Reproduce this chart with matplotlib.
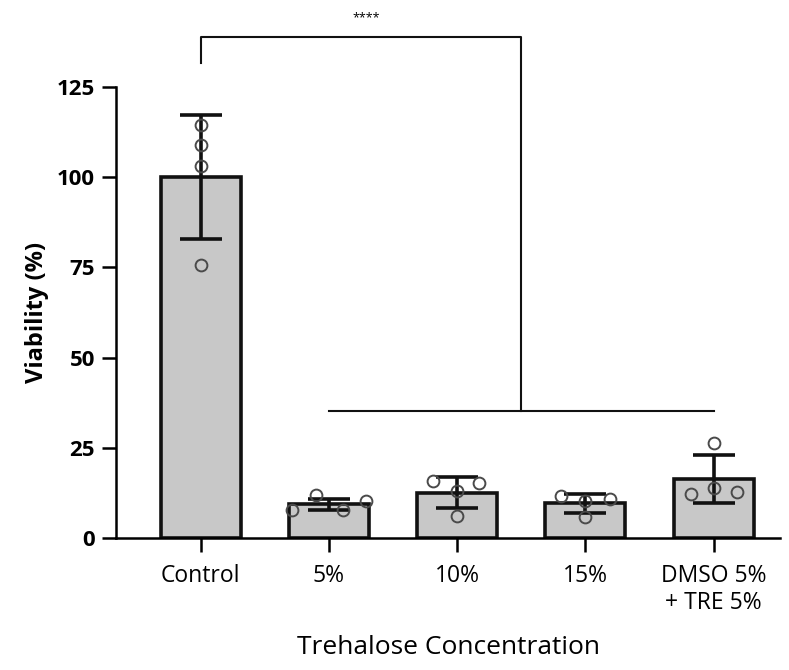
import numpy as np
import matplotlib
matplotlib.use("Agg")
import matplotlib.pyplot as plt

# data
groups = ["Control", "5%", "10%", "15%", "DMSO 5%\n+ TRE 5%"]
means = [100.0, 9.3, 12.5, 9.6, 16.3]
sd = [17.2, 1.6, 4.3, 2.6, 6.7]
points = [
    [114.5, 109.0, 103.0, 75.7],
    [7.8, 11.9, 7.8, 10.3],
    [15.8, 13.0, 15.2, 6.1],
    [11.6, 10.3, 10.8, 5.8],
    [12.2, 13.9, 26.3, 12.8],
]
point_offsets = [
    [0.0, 0.0, 0.0, 0.0],
    [-0.29, -0.1, 0.11, 0.29],
    [-0.19, 0.0, 0.17, 0.0],
    [-0.19, 0.0, 0.19, 0.0],
    [-0.18, 0.0, 0.0, 0.18],
]

plt.rcParams["font.family"] = ["Open Sans", "DejaVu Sans"]

fig = plt.figure(figsize=(7.89, 6.70), dpi=100)
ax = fig.add_axes([0.147, 0.197, 0.842, 0.673])

x = np.arange(len(groups))
ax.bar(x, means, width=0.625, color="#c8c8c8", edgecolor="#111111", linewidth=2.6, zorder=2)
ax.errorbar(x, means, yerr=sd, fmt="none", ecolor="#111111", elinewidth=2.6,
            capsize=15, capthick=2.6, zorder=3)

for i in range(len(groups)):
    xs = x[i] + np.array(point_offsets[i])
    ax.plot(xs, points[i], "o", ms=8.5, mfc="none", mec="#4a4a4a", mew=1.4, zorder=4)

# significance bracket
ax.plot([0, 0, 2.5, 2.5], [131.6, 138.9, 138.9, 35.2], color="#111111", lw=1.5,
        clip_on=False, zorder=5)
ax.plot([1, 4], [35.2, 35.2], color="#111111", lw=1.5, zorder=5)
ax.text(1.29, 142.5, "****", ha="center", va="bottom", fontsize=9, clip_on=False)

ax.set_xlim(-0.66, 4.52)
ax.set_ylim(0, 125)
ax.set_yticks([0, 25, 50, 75, 100, 125])
ax.set_xticks(x)
ax.set_xticklabels(groups, fontsize=16.5, linespacing=1.15)
ax.tick_params(axis="y", labelsize=16, width=1.8, length=10, pad=5)
ax.tick_params(axis="x", width=1.8, length=10, pad=9)
for lbl in ax.get_yticklabels():
    lbl.set_fontweight("bold")

for s in ["top", "right"]:
    ax.spines[s].set_visible(False)
for s in ["left", "bottom"]:
    ax.spines[s].set_linewidth(1.8)

ax.set_ylabel("Viability (%)", fontsize=17, fontweight="bold", labelpad=6)
ax.set_xlabel("Trehalose Concentration", fontsize=19, labelpad=14)

fig.savefig("out.png", dpi=100)
